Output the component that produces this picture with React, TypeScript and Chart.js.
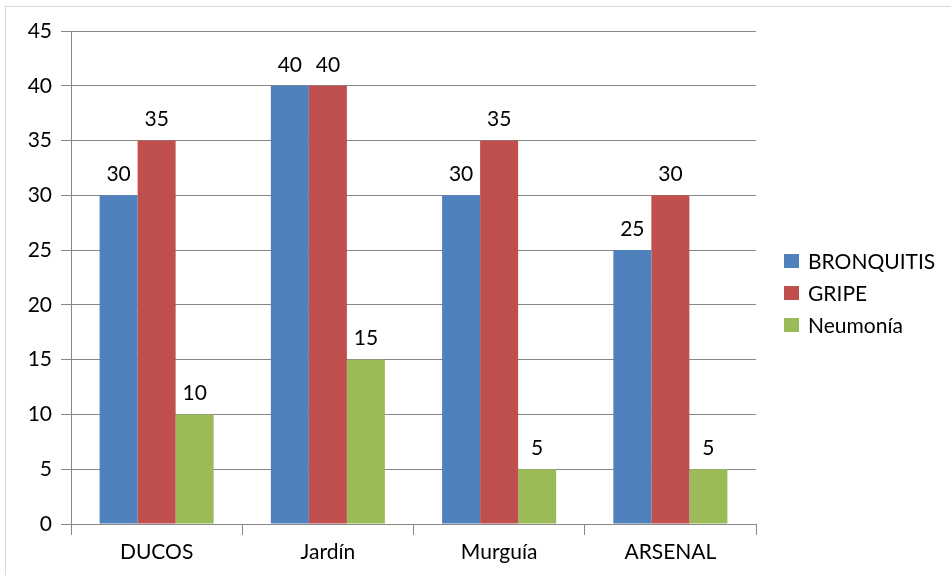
import React, { useEffect, useRef } from "react";
import { Chart, registerables } from "chart.js";

Chart.register(...registerables);

const categories = ["DUCOS", "Jardín", "Murguía", "ARSENAL"];
const seriesNames = ["BRONQUITIS", "GRIPE", "Neumonía"];
const bronquitis = [30, 40, 30, 25];
const gripe = [35, 40, 35, 30];
const neumonia = [10, 15, 5, 5];
const seriesColors = ["#4f81bd", "#c0504d", "#9bbb59"];
const yMax = 45;
const yStep = 5;

const FONT = "Lato, 'Open Sans', sans-serif";
const GRID = "#878787";

export default function App() {
  const ref = useRef<HTMLCanvasElement | null>(null);

  useEffect(() => {
    document.body.style.margin = "0";
    const canvas = ref.current;
    if (!canvas) return;

    const borderPlugin = {
      id: "borderBox",
      beforeDraw(chart: any) {
        const ctx = chart.ctx;
        ctx.save();
        ctx.fillStyle = "#ffffff";
        ctx.fillRect(0, 0, chart.width, chart.height);
        ctx.strokeStyle = "#d9d9d9";
        ctx.lineWidth = 1;
        ctx.strokeRect(5.5, 6.5, 1000, 1000);
        ctx.restore();
      },
    };

    const labelPlugin = {
      id: "barLabels",
      afterDatasetsDraw(chart: any) {
        const ctx = chart.ctx;
        ctx.save();
        ctx.font = `21px ${FONT}`;
        ctx.fillStyle = "#000";
        ctx.textAlign = "center";
        ctx.textBaseline = "middle";
        chart.data.datasets.forEach((ds: any, di: number) => {
          const meta = chart.getDatasetMeta(di);
          meta.data.forEach((bar: any, i: number) => {
            ctx.fillText(String(ds.data[i]), bar.x, bar.y - 21);
          });
        });
        ctx.restore();
      },
    };

    const legendPlugin = {
      id: "customLegend",
      afterDraw(chart: any) {
        const ctx = chart.ctx;
        ctx.save();
        ctx.font = `21px ${FONT}`;
        ctx.textAlign = "left";
        ctx.textBaseline = "middle";
        const x0 = chart.chartArea.right + 28;
        const yc = 261;
        const spacing = 32;
        chart.data.datasets.forEach((ds: any, i: number) => {
          const y = yc + i * spacing;
          ctx.fillStyle = ds.backgroundColor;
          ctx.fillRect(x0, y - 7, 15, 14);
          ctx.fillStyle = "#000";
          ctx.fillText(ds.label, x0 + 24, y + 1);
        });
        ctx.restore();
      },
    };

    const chart = new Chart(canvas, {
      type: "bar",
      data: {
        labels: categories,
        datasets: [
          { label: seriesNames[0], data: bronquitis, backgroundColor: seriesColors[0] },
          { label: seriesNames[1], data: gripe, backgroundColor: seriesColors[1] },
          { label: seriesNames[2], data: neumonia, backgroundColor: seriesColors[2] },
        ],
      },
      options: {
        responsive: false,
        animation: false,
        maintainAspectRatio: false,
        layout: { padding: { left: 0, top: 31, right: 195, bottom: 0 } },
        datasets: {
          bar: { categoryPercentage: 0.666, barPercentage: 1 },
        } as any,
        plugins: {
          legend: { display: false },
          tooltip: { enabled: false },
        },
        scales: {
          x: {
            grid: {
              offset: true,
              drawOnChartArea: false,
              color: GRID,
              tickLength: 11,
              lineWidth: 1,
            },
            border: { color: GRID, width: 1 },
            ticks: {
              color: "#000",
              font: { family: FONT, size: 21 },
              padding: 5,
            },
            afterFit(scale: any) {
              scale.height = 51;
            },
          },
          y: {
            min: 0,
            max: yMax,
            grid: { color: GRID, tickLength: 10, lineWidth: 1 },
            border: { color: GRID, width: 1 },
            ticks: {
              stepSize: yStep,
              color: "#000",
              font: { family: FONT, size: 21 },
              padding: 9,
            },
            afterFit(scale: any) {
              scale.width = 71;
            },
          },
        },
      },
      plugins: [borderPlugin, labelPlugin, legendPlugin],
    });

    return () => chart.destroy();
  }, []);

  return (
    <div style={{ width: 951, height: 575 }}>
      <canvas ref={ref} width={951} height={575} style={{ display: "block", width: 951, height: 575 }} />
    </div>
  );
}
